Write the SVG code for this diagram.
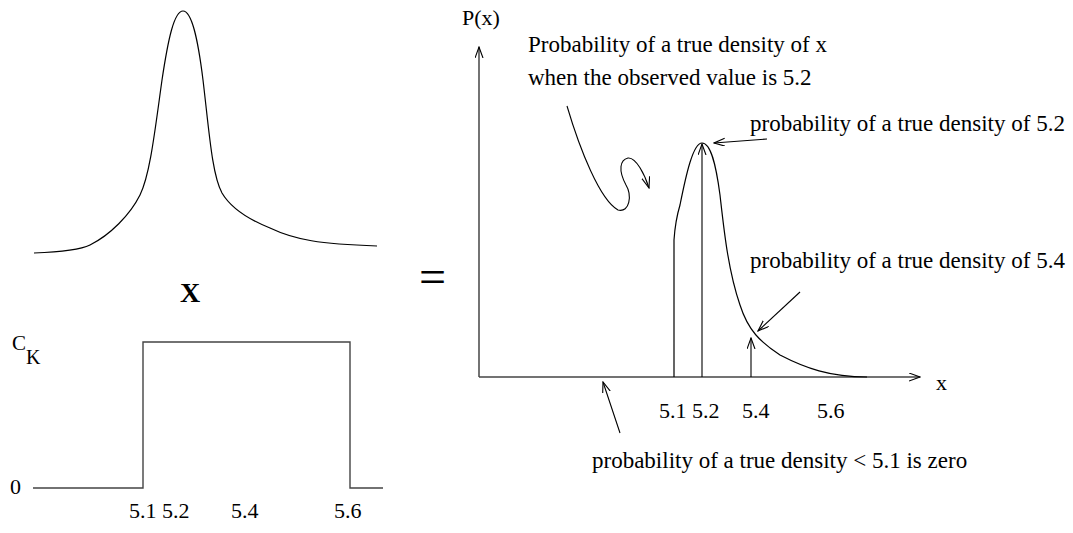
<svg xmlns="http://www.w3.org/2000/svg" width="1073" height="533" viewBox="0 0 1073 533">
<style>
  .t { font-family: "Liberation Serif", "Times New Roman", serif; fill: #000; }
  .lbl { font-size: 22px; }
  .ann { font-size: 23px; }
  .crv { fill: none; stroke: #000; stroke-width: 1.2; }
  .ln { fill: none; stroke: #444; stroke-width: 1.4; }
  .arr { fill: none; stroke: #000; stroke-width: 1.1; marker-end: url(#ah); }
</style>
<defs>
  <marker id="ah" markerWidth="12" markerHeight="10" refX="11" refY="4" orient="auto" markerUnits="userSpaceOnUse">
    <path d="M0,0 L11,4 L0,8" fill="none" stroke="#000" stroke-width="1.1"/>
  </marker>
</defs>
<rect width="1073" height="533" fill="#fff"/>

<g id="left-bell">
  <path class="crv" d="M34,253 C60,252 80,250 90,245 C110,235 130,215 140,195 C150,175 155,130 162,80 C168,40 174,11 183,11 C192,11 198,40 203,80 C209,130 212,175 222,193 C232,210 250,220 270,228 C295,240 320,244 377,246"/>
</g>

<g id="times-sign">
  <text class="t" x="190" y="302" font-size="28" font-weight="bold" text-anchor="middle">X</text>
</g>

<g id="step-function">
  <path class="ln" d="M33,488 L143,488 L143,342 L350,342 L350,488 L383,488"/>
  <text class="t" x="12" y="350" font-size="21">C</text>
  <text class="t" x="26" y="364" font-size="20">K</text>
  <text class="t lbl" x="10" y="494">0</text>
  <text class="t lbl" x="129" y="518">5.1 5.2</text>
  <text class="t lbl" x="231" y="518">5.4</text>
  <text class="t lbl" x="334" y="518">5.6</text>
</g>

<g id="equals-sign">
  <text class="t" x="419" y="293" font-size="48">=</text>
</g>

<g id="axes">
  <line class="arr" x1="479" y1="377" x2="479" y2="47"/>
  <line class="ln" x1="479" y1="377" x2="920" y2="377" marker-end="url(#ah)"/>
  <text class="t lbl" x="462" y="25">P(x)</text>
  <text class="t lbl" x="936" y="390">x</text>
  <text class="t lbl" x="659" y="418">5.1 5.2</text>
  <text class="t lbl" x="742" y="418">5.4</text>
  <text class="t lbl" x="817" y="418">5.6</text>
</g>

<g id="density-curve">
  <path class="crv" d="M674,377 L674,240 C675,225 677,215 680,205 C686,175 693,143 702,143 C711,143 716,165 720,195 C724,230 728,270 740,305 C748,330 760,342 780,355 C805,368 830,377 867,377"/>
</g>

<g id="connectors">
  <line class="arr" x1="702" y1="377" x2="702" y2="144"/>
  <line class="arr" x1="751" y1="377" x2="751" y2="338"/>
  <line class="arr" x1="767" y1="139" x2="714" y2="143"/>
  <line class="arr" x1="800" y1="292" x2="758" y2="331"/>
  <line class="arr" x1="620" y1="433" x2="603" y2="382"/>
  <path class="arr" d="M567,106 C580,150 600,200 618,210 C630,213 632,195 626,185 C618,170 620,160 628,158 C636,157 645,175 649,188"/>
</g>

<g id="annotations">
  <text class="t ann" x="528" y="52">Probability of a true density of x</text>
  <text class="t ann" x="528" y="85">when the observed value is 5.2</text>
  <text class="t ann" x="750" y="131">probability of a true density of 5.2</text>
  <text class="t ann" x="750" y="268">probability of a true density of 5.4</text>
  <text class="t ann" x="592" y="468">probability of a true density &lt; 5.1 is zero</text>
</g>
</svg>
